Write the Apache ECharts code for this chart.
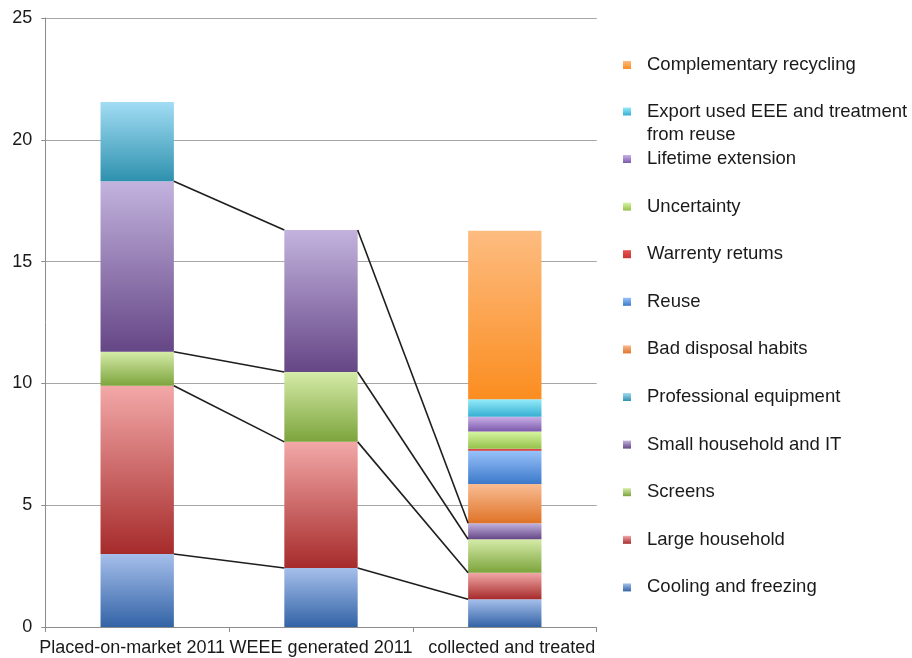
<!DOCTYPE html>
<html>
<head>
<meta charset="utf-8">
<script src="https://cdn.jsdelivr.net/npm/echarts@6/dist/echarts.min.js"></script>
<style>html,body{margin:0;padding:0;background:#fff}#c{width:912px;height:658px}</style>
</head>
<body>
<div id="c"></div>
<script>
var categories = ['Placed-on-market 2011', 'WEEE generated 2011', 'collected and treated'];
var yTicks = [0, 5, 10, 15, 20, 25];

// series values per category (stack order bottom to top)
var coolingFreezing   = [3.0, 2.42, 1.14];
var largeHousehold    = [6.9, 5.18, 1.09];
var screens           = [1.4, 2.87, 1.37];
var smallHouseholdIT  = [7.0, 5.83, 0.66];
var professional      = [3.25, null, null];
var badDisposal       = [null, null, 1.61];
var reuse             = [null, null, 1.37];
var warrantyReturns   = [null, null, 0.08];
var uncertainty       = [null, null, 0.71];
var lifetimeExtension = [null, null, 0.60];
var exportUsed        = [null, null, 0.72];
var complementary     = [null, null, 6.92];

var seriesNames = ['Cooling and freezing', 'Large household', 'Screens', 'Small household and IT',
  'Professional equipment', 'Bad disposal habits', 'Reuse', 'Warrenty retums', 'Uncertainty',
  'Lifetime extension', 'Export used EEE and treatment from reuse', 'Complementary recycling'];
var seriesValues = [coolingFreezing, largeHousehold, screens, smallHouseholdIT, professional,
  badDisposal, reuse, warrantyReturns, uncertainty, lifetimeExtension, exportUsed, complementary];
var seriesColors = [
  ['#a6bfeb', '#3363a6'], ['#f3a8a8', '#a62b2b'], ['#d5eba8', '#7ca43c'], ['#c3b3de', '#654686'],
  ['#a2ddf4', '#2e91ae'], ['#f9bc93', '#df7327'], ['#98c2fa', '#3c79ca'], ['#e85252', '#c83434'],
  ['#d7f5a2', '#94c24a'], ['#c9b0e7', '#7c5aac'], ['#94ecfa', '#36aed2'], ['#fdbc80', '#fb8d20']
];

var barWidthRatio = 0.399;

function grad(c) {
  return new echarts.graphic.LinearGradient(0, 0, 0, 1, [{offset: 0, color: c[0]}, {offset: 1, color: c[1]}]);
}

// connector data: cumulative tops of the four product groups between adjacent bars
var connectorData = [];
for (var t = 0; t < categories.length - 1; t++) {
  var cumA = 0, cumB = 0;
  for (var g = 0; g < 4; g++) {
    cumA += seriesValues[g][t] || 0;
    cumB += seriesValues[g][t + 1] || 0;
    connectorData.push([t, cumA, t + 1, cumB]);
  }
}

var series = seriesNames.map(function (n, i) {
  return {
    name: n, type: 'bar', stack: 'total', barWidth: (barWidthRatio * 100) + '%',
    data: seriesValues[i], itemStyle: {color: grad(seriesColors[i])}, z: 2
  };
});
series.push({
  type: 'custom', name: 'connectors', z: 5, silent: true,
  encode: {x: [0, 2], y: [1, 3]},
  data: connectorData,
  renderItem: function (params, api) {
    var p1 = api.coord([api.value(0), api.value(1)]);
    var p2 = api.coord([api.value(2), api.value(3)]);
    var hw = api.size([1, 0])[0] * barWidthRatio / 2;
    return {
      type: 'line',
      shape: {x1: p1[0] + hw, y1: p1[1], x2: p2[0] - hw, y2: p2[1]},
      style: {stroke: '#1e1e1e', lineWidth: 1.6}
    };
  }
});

var FONT = 'Liberation Sans, Arial, sans-serif';
var legendText = {fontFamily: FONT, fontSize: 18.5, color: '#1a1a1a', lineHeight: 22, padding: [0, 0, 0, 11]};

var option = {
  animation: false,
  backgroundColor: '#ffffff',
  grid: {left: 45.3, right: 315.3, top: 18, bottom: 31, containLabel: false},
  xAxis: {
    type: 'category', boundaryGap: true,
    data: [
      {value: categories[0], textStyle: {padding: [0, 10, 0, 0]}},
      {value: categories[1]},
      {value: categories[2], textStyle: {padding: [0, 0, 0, 14]}}
    ],
    axisLine: {lineStyle: {color: '#8c8c8c', width: 1}},
    axisTick: {show: true, interval: 0, length: 5, lineStyle: {color: '#8c8c8c'}},
    axisLabel: {interval: 0, margin: 12, fontFamily: FONT, fontSize: 18, color: '#1a1a1a'}
  },
  yAxis: {
    type: 'value', min: yTicks[0], max: yTicks[yTicks.length - 1], interval: 5,
    axisLine: {show: true, lineStyle: {color: '#8c8c8c', width: 1}},
    axisTick: {show: true, length: 4, lineStyle: {color: '#8c8c8c'}},
    splitLine: {show: true, lineStyle: {color: '#a6a6a6', width: 1}},
    axisLabel: {margin: 13, fontFamily: FONT, fontSize: 18, color: '#1a1a1a'}
  },
  legend: [
    {
      orient: 'vertical', left: 623, top: 54, padding: 0, itemGap: 1,
      itemWidth: 8, itemHeight: 8, icon: 'rect', selectedMode: false,
      textStyle: legendText,
      data: [
        {name: 'Complementary recycling'},
        {name: 'Export used EEE and treatment from reuse',
          textStyle: {lineHeight: 23, padding: [23, 0, 0, 11], rich: {r: {}}}}
      ],
      formatter: function (n) {
        return n === 'Export used EEE and treatment from reuse' ? 'Export used EEE and treatment\nfrom reuse' : n;
      }
    },
    {
      orient: 'vertical', left: 623, top: 148, padding: 0, itemGap: 25.6,
      itemWidth: 8, itemHeight: 8, icon: 'rect', selectedMode: false,
      textStyle: legendText,
      data: ['Lifetime extension', 'Uncertainty', 'Warrenty retums', 'Reuse', 'Bad disposal habits',
        'Professional equipment', 'Small household and IT', 'Screens', 'Large household', 'Cooling and freezing']
    }
  ],
  series: series
};

var chart = echarts.init(document.getElementById('c'), null, {renderer: 'canvas'});
chart.setOption(option);
</script>
</body>
</html>
